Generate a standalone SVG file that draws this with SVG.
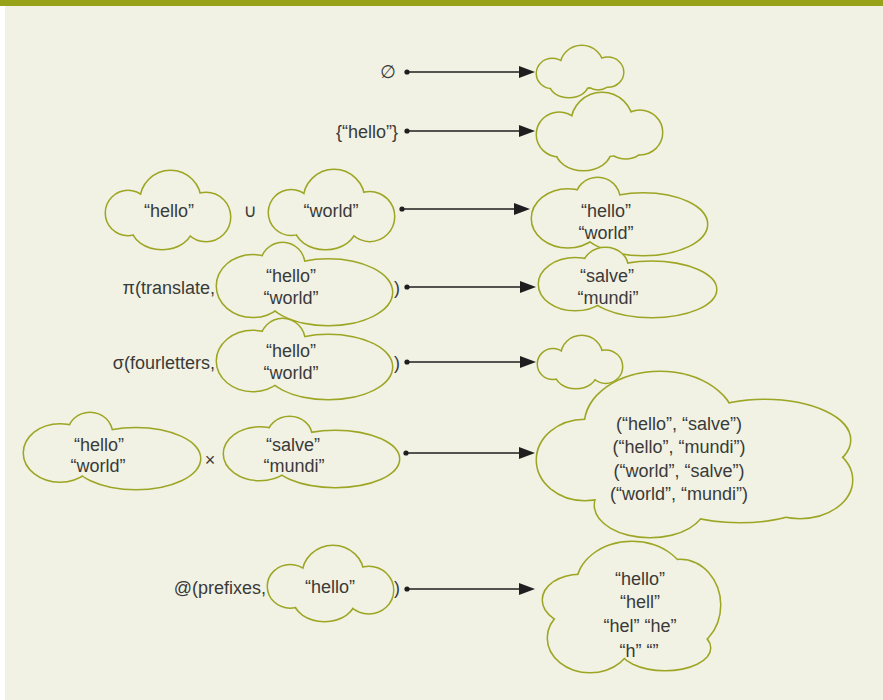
<svg xmlns="http://www.w3.org/2000/svg" xmlns:xlink="http://www.w3.org/1999/xlink" width="883" height="700" viewBox="0 0 883 700">
<style>
.co{fill:#F1F2E3;stroke:#9DA524;stroke-width:3}
.cf{fill:#F1F2E3;stroke:none}
.t{font-family:"Liberation Sans","DejaVu Sans",sans-serif;font-size:18px;fill:#3a3a3a}
.m{text-anchor:middle}
.e{text-anchor:end}
.conn line{stroke:#1e1e1e;stroke-width:1.5;marker-start:url(#dot);marker-end:url(#ah)}
</style>
<defs>
<marker id="ah" viewBox="0 0 16 12" refX="8" refY="6" markerWidth="16" markerHeight="12" markerUnits="userSpaceOnUse" orient="auto"><path d="M0,0 L16,6 L0,12 Z" fill="#1e1e1e"/></marker>
<marker id="dot" viewBox="-3 -3 6 6" refX="0" refY="0" markerWidth="6" markerHeight="6" markerUnits="userSpaceOnUse"><circle r="2.6" fill="#1e1e1e"/></marker>
<g id="cA">
<ellipse cx="22" cy="42" rx="22" ry="22" vector-effect="non-scaling-stroke"/>
<ellipse cx="64.5" cy="30" rx="30" ry="30" vector-effect="non-scaling-stroke"/>
<ellipse cx="100" cy="46" rx="24" ry="24" vector-effect="non-scaling-stroke"/>
<ellipse cx="56" cy="56" rx="30" ry="22" vector-effect="non-scaling-stroke"/>
<ellipse cx="62" cy="44" rx="45" ry="22" vector-effect="non-scaling-stroke"/>
</g>
<g id="cC">
<ellipse cx="22" cy="42" rx="22" ry="22" vector-effect="non-scaling-stroke"/>
<ellipse cx="64.5" cy="30" rx="30" ry="30" vector-effect="non-scaling-stroke"/>
<ellipse cx="102" cy="40" rx="22" ry="22" vector-effect="non-scaling-stroke"/>
<ellipse cx="46" cy="58" rx="27" ry="20" vector-effect="non-scaling-stroke"/>
<ellipse cx="88" cy="54" rx="17" ry="12" vector-effect="non-scaling-stroke"/>
<ellipse cx="62" cy="44" rx="45" ry="20" vector-effect="non-scaling-stroke"/>
</g>
<g id="cB">
<ellipse cx="36" cy="42" rx="36" ry="30" vector-effect="non-scaling-stroke"/>
<ellipse cx="66" cy="22" rx="22" ry="22" vector-effect="non-scaling-stroke"/>
<ellipse cx="112" cy="48" rx="64" ry="32" vector-effect="non-scaling-stroke"/>
</g>
<g id="cBig1">
<ellipse cx="585" cy="460" rx="48" ry="40"/>
<ellipse cx="660" cy="425" rx="75" ry="53"/>
<ellipse cx="765" cy="440" rx="85" ry="40"/>
<ellipse cx="800" cy="480" rx="52" ry="38"/>
<ellipse cx="650" cy="505" rx="55" ry="32"/>
<ellipse cx="740" cy="500" rx="70" ry="22"/>
<ellipse cx="690" cy="460" rx="120" ry="45"/>
</g>
<g id="cBig2">
<ellipse cx="632" cy="585" rx="55" ry="43"/>
<ellipse cx="580" cy="600" rx="37" ry="25"/>
<ellipse cx="590" cy="638" rx="42" ry="34"/>
<ellipse cx="680" cy="605" rx="40" ry="45"/>
<ellipse cx="665" cy="648" rx="45" ry="22"/>
<ellipse cx="632" cy="615" rx="70" ry="40"/>
</g>
</defs>
<rect width="883" height="700" fill="#ffffff"/>
<rect x="5" y="0" width="878" height="700" fill="#F1F2E3"/>
<rect x="0" y="0" width="883" height="6" fill="#97A218"/>

<g id="connectors" class="conn">
<line x1="407" y1="72" x2="527" y2="72"/>
<line x1="407" y1="131" x2="527" y2="131"/>
<line x1="402" y1="209" x2="522" y2="209"/>
<line x1="407" y1="287" x2="528" y2="287"/>
<line x1="407" y1="362" x2="528" y2="362"/>
<line x1="406" y1="453" x2="527" y2="453"/>
<line x1="407" y1="589" x2="527" y2="589"/>
</g>

<g id="row1-label"><text class="t e" x="396" y="78">∅</text></g>
<g id="row1-result">
<use xlink:href="#cC" class="co" transform="translate(537,46) scale(0.694,0.654)"/>
<use xlink:href="#cC" class="cf" transform="translate(537,46) scale(0.694,0.654)"/>
</g>

<g id="row2-label"><text class="t e" x="398" y="138">{“hello”}</text></g>
<g id="row2-result">
<use xlink:href="#cC" class="co" transform="translate(537,93) scale(1.008,0.987)"/>
<use xlink:href="#cC" class="cf" transform="translate(537,93) scale(1.008,0.987)"/>
</g>

<g id="row3-hello">
<use xlink:href="#cA" class="co" transform="translate(106,171)"/>
<use xlink:href="#cA" class="cf" transform="translate(106,171)"/>
<text class="t m" x="169" y="217">“hello”</text>
</g>
<g id="row3-op"><text class="t m" x="250" y="217">∪</text></g>
<g id="row3-world">
<use xlink:href="#cA" class="co" transform="translate(269,170) scale(1.008,1.013)"/>
<use xlink:href="#cA" class="cf" transform="translate(269,170) scale(1.008,1.013)"/>
<text class="t m" x="331" y="217">“world”</text>
</g>
<g id="row3-result">
<use xlink:href="#cB" class="co" transform="translate(532,178) scale(0.994,0.9625)"/>
<use xlink:href="#cB" class="cf" transform="translate(532,178) scale(0.994,0.9625)"/>
<text class="t m" x="606" y="217">“hello”</text>
<text class="t m" x="606" y="239">“world”</text>
</g>

<g id="row4-source">
<text class="t e" x="215" y="294">π(translate,</text>
<use xlink:href="#cB" class="co" transform="translate(217,243) scale(0.994,1.025)"/>
<use xlink:href="#cB" class="cf" transform="translate(217,243) scale(0.994,1.025)"/>
<text class="t m" x="291" y="282">“hello”</text>
<text class="t m" x="291" y="304">“world”</text>
<text class="t m" x="397" y="294">)</text>
</g>
<g id="row4-result">
<use xlink:href="#cB" class="co" transform="translate(539,248) scale(1.006,0.8625)"/>
<use xlink:href="#cB" class="cf" transform="translate(539,248) scale(1.006,0.8625)"/>
<text class="t m" x="607" y="282">“salve”</text>
<text class="t m" x="608" y="304">“mundi”</text>
</g>

<g id="row5-source">
<text class="t e" x="215" y="369">σ(fourletters,</text>
<use xlink:href="#cB" class="co" transform="translate(217,319) scale(0.994,1)"/>
<use xlink:href="#cB" class="cf" transform="translate(217,319) scale(0.994,1)"/>
<text class="t m" x="291" y="357">“hello”</text>
<text class="t m" x="291" y="379">“world”</text>
<text class="t m" x="397" y="369">)</text>
</g>
<g id="row5-result">
<use xlink:href="#cA" class="co" transform="translate(538,336) scale(0.677,0.667)"/>
<use xlink:href="#cA" class="cf" transform="translate(538,336) scale(0.677,0.667)"/>
</g>

<g id="row6-left">
<use xlink:href="#cB" class="co" transform="translate(24,413) scale(1,0.95)"/>
<use xlink:href="#cB" class="cf" transform="translate(24,413) scale(1,0.95)"/>
<text class="t m" x="99" y="451">“hello”</text>
<text class="t m" x="98" y="472">“world”</text>
</g>
<g id="row6-op"><text class="t m" x="210" y="466">×</text></g>
<g id="row6-right">
<use xlink:href="#cB" class="co" transform="translate(224,417) scale(0.994,0.875)"/>
<use xlink:href="#cB" class="cf" transform="translate(224,417) scale(0.994,0.875)"/>
<text class="t m" x="293" y="451">“salve”</text>
<text class="t m" x="294" y="472">“mundi”</text>
</g>
<g id="row6-result">
<use xlink:href="#cBig1" class="co"/>
<use xlink:href="#cBig1" class="cf"/>
<text class="t m" x="679" y="430">(“hello”, “salve”)</text>
<text class="t m" x="679" y="453">(“hello”, “mundi”)</text>
<text class="t m" x="679" y="477">(“world”, “salve”)</text>
<text class="t m" x="679" y="500">(“world”, “mundi”)</text>
</g>

<g id="row7-source">
<text class="t e" x="266" y="594">@(prefixes,</text>
<use xlink:href="#cA" class="co" transform="translate(268,546) scale(1.008,0.96)"/>
<use xlink:href="#cA" class="cf" transform="translate(268,546) scale(1.008,0.96)"/>
<text class="t m" x="330" y="593">“hello”</text>
<text class="t m" x="397" y="594">)</text>
</g>
<g id="row7-result">
<use xlink:href="#cBig2" class="co"/>
<use xlink:href="#cBig2" class="cf"/>
<text class="t m" x="640" y="585">“hello”</text>
<text class="t m" x="640" y="608">“hell”</text>
<text class="t m" x="640" y="632">“hel” “he”</text>
<text class="t m" x="639" y="657">“h” “”</text>
</g>
</svg>
